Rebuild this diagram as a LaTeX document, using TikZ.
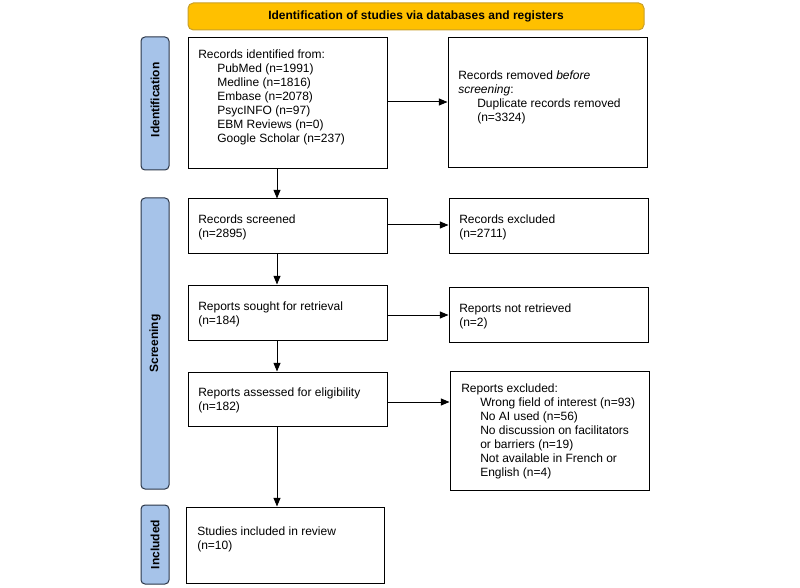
\documentclass[tikz,border=0pt]{standalone}
\usepackage{fontspec}
\setmainfont{Liberation Sans}
\usetikzlibrary{arrows.meta}
\definecolor{bannerfill}{HTML}{FFC000}
\definecolor{bannerline}{HTML}{C9A02A}
\definecolor{phasefill}{HTML}{A6C3E9}
\definecolor{phaseline}{HTML}{2B3648}
\tikzset{
  box/.style={draw=black, line width=0.75pt, inner sep=0pt, minimum width=149.25pt},
  txt/.style={anchor=west, inner sep=0pt, align=left, yshift=-1.2pt, font=\fontsize{9}{10.5}\selectfont},
  phasebar/.style={draw=phaseline, fill=phasefill, rounded corners=3pt, line width=0.75pt, inner sep=0pt, minimum width=21pt},
  phaselabel/.style={rotate=90, inner sep=0pt, font=\fontsize{9}{10.5}\selectfont\bfseries},
  arr/.style={line width=0.75pt, -{Triangle[length=6.5pt,width=5.25pt]}},
}
\newcommand{\ind}{\hspace*{14.25pt}}
\begin{document}
\begin{tikzpicture}[x=0.75pt,y=-0.75pt]
\useasboundingbox (0,0) rectangle (800,588);
% banner
\node[draw=bannerline, fill=bannerfill, rounded corners=4pt, line width=0.75pt,
      minimum width=342pt, minimum height=20.25pt, inner sep=0pt,
      font=\fontsize{9}{10.5}\selectfont\bfseries] (title) at (416,16.5)
      {Identification of studies via databases and registers};
% phase bars
\node[phasebar, minimum height=99.75pt] (pid) at (155,103.5) {};
\node[phaselabel] (lid) at (155,100) {Identification};
\node[phasebar, minimum height=218.25pt] (pscr) at (155,343.5) {};
\node[phaselabel] (lscr) at (pscr) {Screening};
\node[phasebar, minimum height=59.25pt] (pinc) at (155,544.5) {};
\node[phaselabel] (linc) at (pinc) {Included};
% boxes
\node[box, minimum height=98.25pt] (id) at (287.5,103.5) {};
\node[box, minimum height=97.5pt] (rem) at (547.5,103) {};
\node[box, minimum height=41.25pt] (scr) at (287.5,226.5) {};
\node[box, minimum height=41.25pt] (exc) at (548.5,226.5) {};
\node[box, minimum height=41.25pt] (sought) at (287.5,312.5) {};
\node[box, minimum height=41.25pt] (notret) at (548.5,314.5) {};
\node[box, minimum height=40.5pt] (assess) at (287.5,399) {};
\node[box, minimum height=89.25pt] (repexc) at (549.5,430.5) {};
\node[box, minimum width=148.5pt, minimum height=57pt] (incl) at (285,545) {};
% texts
\node[txt] (tid) at (198,96) {Records identified from:\\
  \ind PubMed (n=1991)\\
  \ind Medline (n=1816)\\
  \ind Embase (n=2078)\\
  \ind PsycINFO (n=97)\\
  \ind EBM Reviews (n=0)\\
  \ind Google Scholar (n=237)};
\node[txt] (trem) at (458,95.5) {Records removed \textit{before}\\
  \textit{screening}:\\
  \ind Duplicate records removed\\
  \ind (n=3324)};
\node[txt] (tscr) at (198,226) {Records screened\\(n=2895)};
\node[txt] (texc) at (459,226) {Records excluded\\(n=2711)};
\node[txt] (tsought) at (198,313) {Reports sought for retrieval\\(n=184)};
\node[txt] (tnotret) at (459,315) {Reports not retrieved\\(n=2)};
\node[txt] (tassess) at (198,399) {Reports assessed for eligibility\\(n=182)};
\node[txt] (trepexc) at (461,430) {Reports excluded:\\
  \ind Wrong field of interest (n=93)\\
  \ind No AI used (n=56)\\
  \ind No discussion on facilitators\\
  \ind or barriers (n=19)\\
  \ind Not available in French or\\
  \ind English (n=4)};
\node[txt] (tincl) at (197,538) {Studies included in review\\(n=10)};
% connectors
\coordinate (ax) at (277,0);
\coordinate (h1) at (0,102);
\coordinate (h2) at (0,225);
\coordinate (h3) at (0,315);
\coordinate (h4) at (0,402);
\draw[arr] (id.south -| ax) -- (scr.north -| ax);
\draw[arr] (scr.south -| ax) -- (sought.north -| ax);
\draw[arr] (sought.south -| ax) -- (assess.north -| ax);
\draw[arr] (assess.south -| ax) -- (incl.north -| ax);
\draw[arr] (id.east |- h1) -- (rem.west |- h1);
\draw[arr] (scr.east |- h2) -- (exc.west |- h2);
\draw[arr] (sought.east |- h3) -- (notret.west |- h3);
\draw[arr] (assess.east |- h4) -- (repexc.west |- h4);
\end{tikzpicture}
\end{document}
